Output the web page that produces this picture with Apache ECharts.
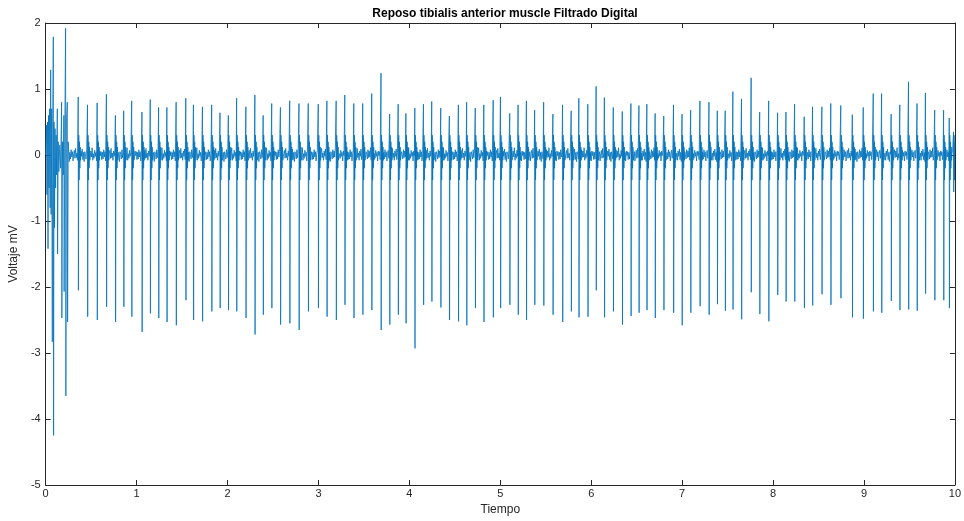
<!DOCTYPE html>
<html>
<head>
<meta charset="utf-8">
<script src="https://cdn.jsdelivr.net/npm/echarts@6/dist/echarts.min.js"></script>
<style>
  html, body { margin: 0; padding: 0; background: #fff; }
  #chart { width: 964px; height: 521px; }
</style>
</head>
<body>
<div id="chart"></div>
<script>
// axis ticks
const xTicks = [0, 1, 2, 3, 4, 5, 6, 7, 8, 9, 10]
const yTicks = [-5, -4, -3, -2, -1, 0, 1, 2]

// start-up burst (0 - 0.26 s), read point by point
const earlyTimes = [0, 0.008, 0.014, 0.02, 0.026, 0.031, 0.037, 0.043, 0.049, 0.055, 0.06, 0.066, 0.073, 0.078, 0.084, 0.087, 0.092, 0.097, 0.103, 0.109, 0.115, 0.12, 0.128, 0.131, 0.138, 0.145, 0.155, 0.165, 0.175, 0.178, 0.185, 0.193, 0.2, 0.203, 0.21, 0.219, 0.222, 0.228, 0.238, 0.241, 0.248, 0.26]
const earlyVals = [0, 0.45, -0.6, 0.5, -1.42, 0.6, -0.5, 0.7, -0.8, 1.29, -0.9, 0.7, -2.83, 0.6, 1.79, -4.25, 0.5, -1.1, 0.4, -0.5, 0.3, -0.3, 0.7, -1.5, 0.2, -0.25, 0.15, -0.2, 0.8, -2.47, 0.2, -0.3, 0.6, -2.07, 0.3, 1.92, -3.65, 0.5, 0.8, -2.53, 0.2, -0.1]

// motor unit spikes: time (s), positive peak, negative peak (mV)
const spikeTimes = [
  0.358, 0.46, 0.566, 0.668, 0.767, 0.858, 0.946, 1.059, 1.15, 1.242, 1.333, 1.435, 1.541,
  1.625, 1.724, 1.826, 1.917, 2.009, 2.1, 2.202, 2.301, 2.392, 2.486, 2.582, 2.684, 2.786, 2.888, 2.998, 3.093, 3.195, 3.29,
  3.389, 3.487, 3.586, 3.688, 3.783, 3.877, 3.962, 4.06, 4.155, 4.246, 4.345, 4.44, 4.539, 4.63, 4.725, 4.819, 4.922,
  5.002, 5.104, 5.196, 5.287, 5.378, 5.477, 5.579, 5.685, 5.78, 5.864, 5.963, 6.054, 6.145, 6.243, 6.342, 6.437, 6.525, 6.612,
  6.703, 6.798, 6.905, 6.999, 7.094, 7.196, 7.295, 7.387, 7.474, 7.558, 7.653, 7.759, 7.853, 7.952, 8.05, 8.142, 8.237, 8.343,
  8.434, 8.537, 8.635, 8.745, 8.872, 8.992, 9.102, 9.194, 9.299, 9.394, 9.49, 9.584, 9.676, 9.778, 9.876, 9.938, 9.985
]
const spikeUp = [
  0.88, 0.76, 0.79, 0.92, 0.6, 0.67, 0.82, 0.65, 0.84, 0.72, 0.72, 0.8, 0.86,
  0.76, 0.73, 0.76, 0.64, 0.6, 0.86, 0.73, 0.91, 0.6, 0.78, 0.72, 0.82, 0.78, 0.78, 0.77, 0.82, 0.82, 0.91,
  0.78, 0.78, 0.93, 1.24, 0.62, 0.77, 0.63, 0.71, 0.77, 0.81, 0.71, 0.59, 0.76, 0.8, 0.71, 0.76, 0.83,
  0.88, 0.63, 0.76, 0.82, 0.68, 0.8, 0.62, 0.76, 0.67, 0.86, 0.77, 1.04, 0.87, 0.72, 0.66, 0.78, 0.75, 0.77,
  0.63, 0.59, 0.76, 0.62, 0.68, 0.82, 0.8, 0.67, 0.67, 0.96, 0.85, 1.17, 0.65, 0.82, 0.64, 0.65, 0.77, 0.58,
  0.73, 0.73, 0.78, 0.75, 0.61, 0.72, 0.93, 0.93, 0.62, 0.76, 1.11, 0.78, 0.94, 0.68, 0.68, 0.56, 0.35
]
const spikeDown = [
  -2.05, -2.45, -2.5, -2.3, -2.53, -2.3, -2.45, -2.68, -2.4, -2.47, -2.53, -2.58, -2.2,
  -2.5, -2.52, -2.37, -2.32, -2.35, -2.37, -2.47, -2.72, -2.42, -2.32, -2.57, -2.55, -2.65, -2.37, -2.32, -2.45, -2.5, -2.27,
  -2.47, -2.42, -2.35, -2.65, -2.57, -2.42, -2.55, -2.93, -2.27, -2.22, -2.31, -2.5, -2.52, -2.58, -2.32, -2.53, -2.46,
  -2.32, -2.27, -2.42, -2.5, -2.27, -2.28, -2.42, -2.53, -2.37, -2.46, -2.45, -2.05, -2.46, -2.37, -2.57, -2.44, -2.39, -2.35,
  -2.47, -2.35, -2.39, -2.58, -2.39, -2.29, -2.42, -2.26, -2.36, -2.34, -2.49, -2.08, -2.41, -2.52, -2.12, -2.22, -2.22, -2.32,
  -2.28, -2.11, -2.27, -2.17, -2.46, -2.48, -2.37, -2.39, -2.21, -2.35, -2.34, -2.36, -2.1, -2.2, -2.2, -2.32, -0.56
]

// small oscillation that follows every spike (mV)
const ringVals = [0.3, -0.38, 0.2, -0.2, 0.12, -0.08]
// baseline noise samples (mV)
const noiseVals = [0.04, -0.06, 0.08, -0.03, 0.05, -0.09, 0.02, 0.07, -0.05, 0.1, -0.04, 0.03, -0.08, 0.06, -0.02, 0.09, -0.07, 0.04, -0.1, 0.05, 0.01, -0.06, 0.08, -0.04, 0.06, -0.03, 0.11, -0.08, 0.02, -0.05, 0.07, -0.02, 0.04, -0.09, 0.06, -0.01, 0.05, -0.07]

const signal = []
let n = 0
function addNoise (from, to) {
  for (let t = from; t < to; t += 0.007) {
    signal.push([t, noiseVals[n % noiseVals.length]])
    n++
  }
}
earlyTimes.forEach((t, i) => signal.push([t, earlyVals[i]]))
let prev = earlyTimes[earlyTimes.length - 1] + 0.006
spikeTimes.forEach((t, i) => {
  addNoise(prev, t - 0.004)
  signal.push([t, spikeUp[i]])
  signal.push([t + 0.002, spikeDown[i]])
  ringVals.forEach((v, k) => {
    if (t + 0.006 + k * 0.004 <= 10) signal.push([t + 0.006 + k * 0.004, v])
  })
  prev = t + 0.03
})
addNoise(prev, 10)

const axisColor = '#262626'
const font = 'Liberation Sans, Arial, sans-serif'

const option = {
  animation: false,
  backgroundColor: '#fff',
  title: {
    text: 'Reposo tibialis anterior muscle Filtrado Digital',
    left: 500,
    textAlign: 'center',
    top: 3,
    textStyle: { fontFamily: font, fontSize: 12, fontWeight: 'bold', color: '#000' }
  },
  grid: { left: 43, right: 7, top: 23, bottom: 36 },
  xAxis: [
    {
      type: 'value',
      min: xTicks[0],
      max: xTicks[xTicks.length - 1],
      interval: 1,
      position: 'bottom',
      name: 'Tiempo',
      nameLocation: 'middle',
      nameGap: 19,
      nameTextStyle: { fontFamily: font, fontSize: 12, color: axisColor },
      axisLine: { onZero: false, lineStyle: { color: axisColor, width: 1 } },
      axisTick: { inside: true, length: 5, lineStyle: { color: axisColor } },
      axisLabel: { fontFamily: font, fontSize: 11, color: axisColor, margin: 3 },
      splitLine: { show: false }
    },
    {
      type: 'value',
      min: xTicks[0],
      max: xTicks[xTicks.length - 1],
      interval: 1,
      position: 'top',
      axisLine: { onZero: false, lineStyle: { color: axisColor, width: 1 } },
      axisTick: { inside: true, length: 5, lineStyle: { color: axisColor } },
      axisLabel: { show: false },
      splitLine: { show: false }
    }
  ],
  yAxis: [
    {
      type: 'value',
      min: yTicks[0],
      max: yTicks[yTicks.length - 1],
      interval: 1,
      position: 'left',
      name: 'Voltaje mV',
      nameLocation: 'middle',
      nameGap: 17,
      nameTextStyle: { fontFamily: font, fontSize: 12, color: axisColor },
      axisLine: { onZero: false, lineStyle: { color: axisColor, width: 1 } },
      axisTick: { inside: true, length: 5, lineStyle: { color: axisColor } },
      axisLabel: { fontFamily: font, fontSize: 11, color: axisColor, margin: 5 },
      splitLine: { show: false }
    },
    {
      type: 'value',
      min: yTicks[0],
      max: yTicks[yTicks.length - 1],
      interval: 1,
      position: 'right',
      axisLine: { onZero: false, lineStyle: { color: axisColor, width: 1 } },
      axisTick: { inside: true, length: 5, lineStyle: { color: axisColor } },
      axisLabel: { show: false },
      splitLine: { show: false }
    }
  ],
  series: [
    {
      type: 'line',
      xAxisIndex: 0,
      yAxisIndex: 0,
      data: signal,
      showSymbol: false,
      symbol: 'none',
      sampling: null,
      lineStyle: { color: '#0072BD', width: 0.8 },
      clip: true
    }
  ]
}

const chart = echarts.init(document.getElementById('chart'), null, { renderer: 'canvas' })
chart.setOption(option)
</script>
</body>
</html>
